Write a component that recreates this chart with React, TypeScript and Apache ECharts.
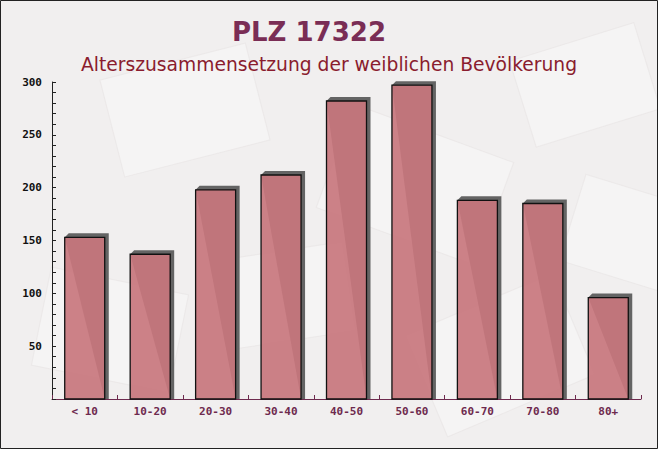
import React, { useEffect, useRef } from "react";
import * as echarts from "echarts";

const categories = ["< 10", "10-20", "20-30", "30-40", "40-50", "50-60", "60-70", "70-80", "80+"];
const values = [153, 137, 198, 212, 282, 297, 188, 185, 96];
const yTicks = [50, 100, 150, 200, 250, 300];
const titleText = "PLZ 17322";
const subtitleText = "Alterszusammensetzung der weiblichen Bevölkerung";

export default function App() {
  const ref = useRef<HTMLDivElement>(null);
  useEffect(() => {
    if (!ref.current) return;
    const chart = echarts.init(ref.current, undefined, { renderer: "svg" });
    const envelopes = [
      { x: 110, y: 60, w: 150, h: 100, r: 0.25 },
      { x: 330, y: 130, w: 170, h: 110, r: -0.35 },
      { x: 520, y: 40, w: 130, h: 90, r: 0.3 },
      { x: 40, y: 280, w: 140, h: 100, r: -0.2 },
      { x: 420, y: 300, w: 160, h: 110, r: 0.4 },
      { x: 230, y: 250, w: 120, h: 90, r: 0.15 },
      { x: 570, y: 190, w: 120, h: 90, r: -0.3 },
    ];
    chart.setOption({
      animation: false,
      backgroundColor: "#f1efef",
      graphic: [
        ...envelopes.map((e) => ({
          type: "rect",
          z: -10,
          silent: true,
          x: e.x,
          y: e.y,
          rotation: e.r,
          originX: e.w / 2,
          originY: e.h / 2,
          shape: { x: 0, y: 0, width: e.w, height: e.h },
          style: { fill: "rgba(255,255,255,0.3)", stroke: "rgba(230,225,225,0.5)", lineWidth: 1 },
        })),
        {
          type: "rect",
          z: 100,
          silent: true,
          shape: { x: 0.5, y: 0.5, width: 657, height: 448 },
          style: { fill: "none", stroke: "#222", lineWidth: 1 },
        },
      ],
      title: [
        {
          text: titleText,
          left: 227,
          top: 14,
          textStyle: { fontFamily: "DejaVu Sans", fontWeight: "bold", fontSize: 26, color: "#7a2d55" },
        },
        {
          text: subtitleText,
          left: "center",
          top: 50,
          textStyle: { fontFamily: "DejaVu Sans", fontWeight: "normal", fontSize: 18.7, color: "#8a1c2e" },
        },
      ],
      grid: { left: 52, right: 17, top: 82, bottom: 50, containLabel: false },
      xAxis: {
        type: "category",
        data: categories,
        axisLine: { lineStyle: { color: "#6e2a4e", width: 1 } },
        axisTick: { show: true, inside: true, length: 4, lineStyle: { color: "#6e2a4e" } },
        axisLabel: {
          fontFamily: "DejaVu Sans Mono",
          fontWeight: "bold",
          fontSize: 11,
          color: "#6e2a4e",
          margin: 7,
        },
        splitLine: { show: false },
      },
      yAxis: {
        type: "value",
        min: 0,
        max: 300,
        interval: 50,
        axisLine: { show: true, lineStyle: { color: "#222", width: 1 } },
        axisTick: { show: true, inside: true, length: 4, lineStyle: { color: "#222" } },
        minorTick: { show: true, splitNumber: 5, length: 4, lineStyle: { color: "#222" } },
        axisLabel: {
          fontFamily: "DejaVu Sans Mono",
          fontWeight: "bold",
          fontSize: 11,
          color: "#111",
          margin: 10,
          formatter: (v: number) => (yTicks.includes(v) ? String(v) : ""),
        },
        splitLine: { show: false },
      },
      series: [
        {
          type: "custom",
          data: values.map((v, i) => [i, v]),
          renderItem: (params: any, api: any) => {
            const i = api.value(0);
            const v = api.value(1);
            const top = api.coord([i, v]);
            const base = api.coord([i, 0]);
            const bw = 40;
            const x0 = top[0] - bw / 2;
            const x1 = top[0] + bw / 2;
            const d = 4;
            return {
              type: "group",
              children: [
                {
                  type: "polygon",
                  shape: {
                    points: [
                      [x0, top[1]],
                      [x0 + d, top[1] - d],
                      [x1 + d, top[1] - d],
                      [x1 + d, base[1]],
                      [x1, base[1]],
                    ],
                  },
                  style: { fill: "#646464" },
                },
                {
                  type: "rect",
                  shape: { x: x0, y: top[1], width: bw, height: base[1] - top[1] },
                  style: { fill: "rgba(200,118,125,0.92)", stroke: "#111", lineWidth: 1.3 },
                },
              ],
            };
          },
        },
      ],
    });
    return () => chart.dispose();
  }, []);
  return <div ref={ref} style={{ width: 658, height: 449, position: "absolute", left: 0, top: 0 }} />;
}
